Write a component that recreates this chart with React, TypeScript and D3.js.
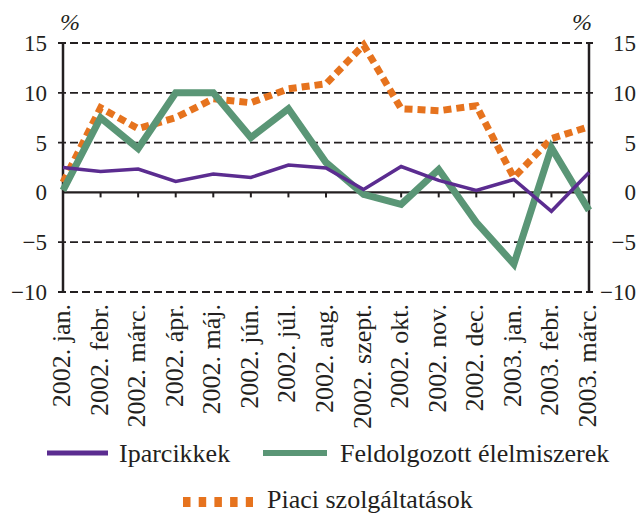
import React from 'react';
import * as d3 from 'd3';

// kategóriák (hónapok)
const months = [
    '2002. jan.', '2002. febr.', '2002. márc.', '2002. ápr.', '2002. máj.', '2002. jún.', '2002. júl.',
    '2002. aug.', '2002. szept.', '2002. okt.', '2002. nov.', '2002. dec.', '2003. jan.', '2003. febr.', '2003. márc.',
];

const iparcikkek = [2.5, 2.1, 2.35, 1.1, 1.85, 1.5, 2.75, 2.45, 0.3, 2.6, 1.2, 0.2, 1.3, -1.9, 2.0];
const elelmiszerek = [0.2, 7.5, 4.4, 10.0, 10.0, 5.5, 8.4, 3.0, -0.2, -1.2, 2.3, -3.0, -7.2, 4.5, -1.8];
const szolgaltatasok = [1.0, 8.5, 6.4, 7.5, 9.4, 9.0, 10.4, 10.9, 14.8, 8.4, 8.2, 8.7, 1.5, 5.4, 6.6];

const yTicks = [-10, -5, 0, 5, 10, 15];

const series = [
    { name: 'Iparcikkek', values: iparcikkek, color: '#5b2c90', width: 3.5, dash: undefined },
    { name: 'Feldolgozott élelmiszerek', values: elelmiszerek, color: '#5a9676', width: 7, dash: undefined },
    { name: 'Piaci szolgáltatások', values: szolgaltatasok, color: '#e6731e', width: 7, dash: '8,5' },
];

const FONT = "'Liberation Serif', 'Times New Roman', Tinos, 'Nimbus Roman', 'DejaVu Serif', serif";
const INK = '#231f20';

const left = 63, right = 589, top = 43, bottom = 292;

const x = d3.scalePoint<string>().domain(months).range([left, right]);
const y = d3.scaleLinear().domain([-10, 15]).range([bottom, top]);
const fmt = (d: number) => (d < 0 ? '\u2212' + Math.abs(d) : `${d}`);

const line = d3.line<number>()
    .x((_, i) => x(months[i])!)
    .y(d => y(d));

// jelmagyarázat elhelyezése
const legend = [
    { s: series[0], x1: 47, x2: 108, y: 453, tx: 119, ty: 462, w: 5 },
    { s: series[1], x1: 263, x2: 327, y: 453, tx: 340, ty: 462, w: 6 },
    { s: series[2], x1: 183, x2: 253, y: 502, tx: 267, ty: 508, w: 10 },
];

const App = () => (
    <svg width={637} height={513}
        style={{ position: 'absolute', left: 0, top: 0, background: '#fff', fontFamily: FONT }}>
        {/* szaggatott rácsvonalak */}
        {yTicks.filter(t => t !== 0).map(t => (
            <line key={t} x1={left - 5} x2={right + 4} y1={y(t)} y2={y(t)}
                stroke={INK} strokeWidth={1.8} strokeDasharray="8,4" />
        ))}

        {/* függőleges tengelyek */}
        {[left, right].map(xx => (
            <line key={xx} x1={xx} x2={xx} y1={top} y2={bottom} stroke={INK} strokeWidth={2.5} />
        ))}

        {/* tengelyfeliratok */}
        {yTicks.map(t => (
            <g key={t} fill={INK} fontSize={23} textAnchor="end" style={{ fontFamily: FONT }}>
                <text x={47} y={y(t) + 8}>{fmt(t)}</text>
                <text x={636} y={y(t) + 8}>{fmt(t)}</text>
            </g>
        ))}

        {/* nulla vonal */}
        <line x1={left} x2={right} y1={y(0)} y2={y(0)} stroke={INK} strokeWidth={2.2} />
        {months.map(m => (
            <line key={m} x1={x(m)} x2={x(m)} y1={y(0)} y2={y(0) + 5} stroke={INK} strokeWidth={2} />
        ))}

        {/* kategória feliratok */}
        {months.map(m => (
            <text key={m} transform={`translate(${x(m)! + 7},${bottom + 12}) rotate(-90)`}
                textAnchor="end" fontSize={26} fill={INK} style={{ fontFamily: FONT }}>{m}</text>
        ))}

        {/* % jelek */}
        {[60, 572].map(px => (
            <text key={px} x={px} y={30} fontSize={24} fontStyle="italic" fill={INK}
                style={{ fontFamily: FONT }}>%</text>
        ))}

        {/* vonalak */}
        {[series[2], series[1], series[0]].map(s => (
            <path key={s.name} d={line(s.values)!} fill="none" stroke={s.color}
                strokeWidth={s.width} strokeDasharray={s.dash} />
        ))}

        {/* jelmagyarázat */}
        {legend.map(l => (
            <g key={l.s.name}>
                <line x1={l.x1} x2={l.x2} y1={l.y} y2={l.y} stroke={l.s.color} strokeWidth={l.w}
                    strokeDasharray={l.s.dash ? '7.5,8.2' : undefined} />
                <text x={l.tx} y={l.ty} fontSize={26} fill={INK} style={{ fontFamily: FONT }}>{l.s.name}</text>
            </g>
        ))}
    </svg>
);

export default App;
